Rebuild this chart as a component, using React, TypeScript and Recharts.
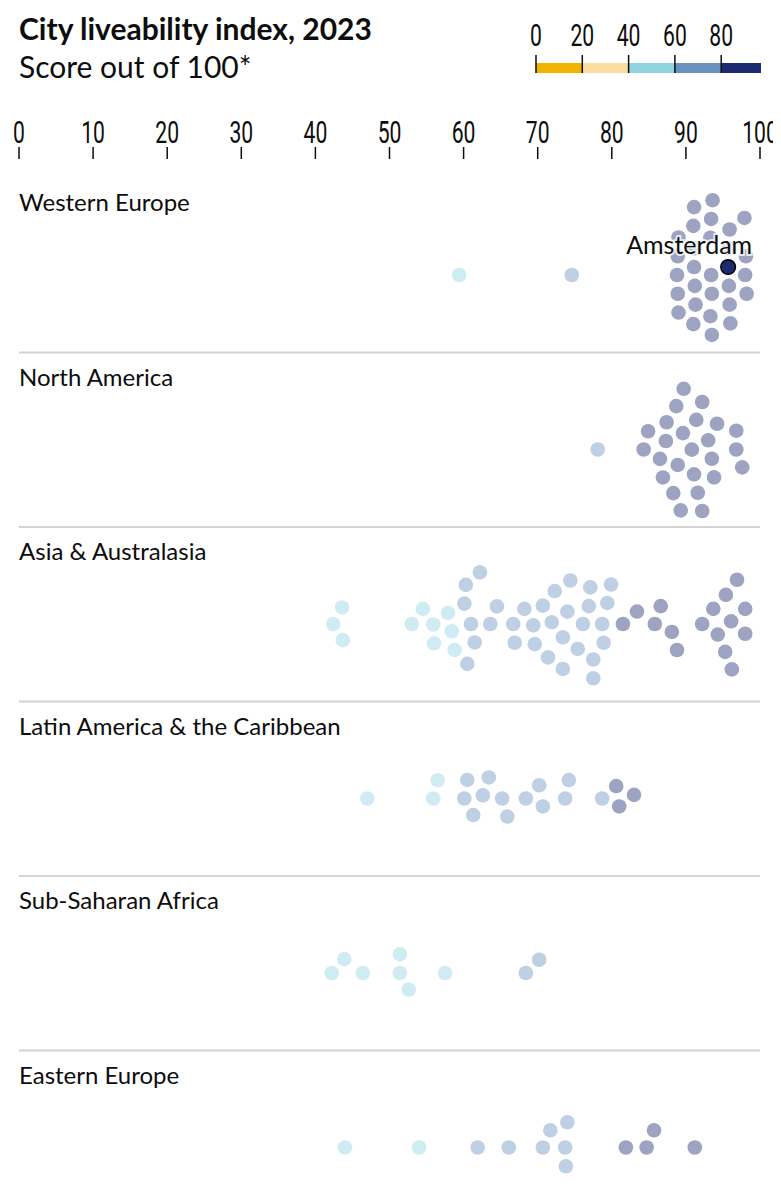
import React from 'react';
import { ScatterChart, Scatter, XAxis, YAxis, ReferenceLine } from 'recharts';

// Scores, one dot per city
const regions = [
  'Western Europe',
  'North America',
  'Asia & Australasia',
  'Latin America & the Caribbean',
  'Sub-Saharan Africa',
  'Eastern Europe',
];

const westernEurope = [
  59.4, 74.6,
  88.8, 88.9, 88.9, 89.0, 89.0,
  91.0, 91.1, 91.1, 91.2, 91.2, 91.3, 91.0,
  93.3, 93.4, 93.4, 93.5, 93.5, 93.6, 93.3,
  95.8, 95.8, 95.9, 95.9, 96.0,
  97.9, 98.0, 98.1, 98.2,
];
const northAmerica = [
  78.1, 84.3, 84.9, 86.5, 86.9, 87.3, 87.4, 88.3, 88.7, 88.9, 89.3, 89.6, 89.7, 90.8, 91.1,
  91.4, 91.6, 92.2, 92.2, 93.0, 93.5, 93.8, 94.2, 96.8, 96.8, 97.6,
];
const asiaAustralasia = [
  42.4, 43.6, 43.7, 53.0, 54.5, 55.9, 56.0, 57.9, 58.4, 58.8,
  60.1, 60.3, 60.5, 61.0, 61.5, 62.2, 63.6, 64.5, 66.7, 66.9, 68.2, 69.4, 69.6, 70.7, 71.4,
  71.9, 72.3, 73.4, 73.4, 74.0, 74.4, 75.4, 76.1, 76.9, 77.1, 77.5, 77.5, 78.7, 78.9, 79.4, 79.9,
  81.5, 83.4, 85.8, 86.6, 88.1, 88.8, 92.2, 93.7, 94.3, 95.3, 95.4, 96.1, 96.2, 96.9, 98.0, 98.0,
];
const latinAmerica = [
  47.0, 55.9, 56.5, 60.1, 60.5, 61.3, 62.6, 63.4, 65.2, 65.9, 68.4, 70.2, 70.7, 73.7, 74.2,
  78.7, 80.6, 81.0, 83.0,
];
const subSaharanAfrica = [42.2, 43.9, 46.4, 51.4, 51.4, 52.6, 57.5, 68.4, 70.2];
const easternEurope = [44.0, 54.0, 61.9, 66.1, 70.7, 71.7, 73.7, 73.8, 74.0, 81.9, 84.7, 85.7, 91.2];

const highlightCity = 'Amsterdam';
const highlightScore = 95.7;

const regionScores = [westernEurope, northAmerica, asiaAustralasia, latinAmerica, subSaharanAfrica, easternEurope];

const axisTicks = [0, 10, 20, 30, 40, 50, 60, 70, 80, 90, 100];
const legendBreaks = [0, 20, 40, 60, 80];
const legendColors = ['#f0b400', '#fcdd9f', '#90d4e1', '#6a92c0', '#1c2a6f'];

// layout
const W = 781;
const H = 1200;
const LEFT = 19;
const RIGHT = 760;
const TOP = 178;
const BAND = 174.5;
const MID = 97;
const PX = (RIGHT - LEFT) / 100;
const GAP = 18.8;
const R = 7.3;
const FONT = 'Lato, "Noto Sans", sans-serif';

const colorFor = (s: number) => legendColors[Math.min(4, Math.floor(s / 20))];

// simple greedy beeswarm: offset each dot as little as possible from the band centre
function swarm(scores: number[]) {
  const order = scores.map((_, i) => i).sort((a, b) => scores[a] - scores[b]);
  const placed: { x: number; y: number }[] = [];
  const ys = new Array(scores.length).fill(0);
  for (const i of order) {
    const x = scores[i] * PX;
    const cands = [0];
    for (const p of placed) {
      const dx = Math.abs(p.x - x);
      if (dx < GAP) {
        const dy = Math.sqrt(GAP * GAP - dx * dx);
        cands.push(p.y + dy, p.y - dy);
      }
    }
    cands.sort((a, b) => Math.abs(a) - Math.abs(b) || a - b);
    const y = cands.find((c) => placed.every((p) => (p.x - x) ** 2 + (p.y - c) ** 2 >= GAP * GAP - 1e-6)) ?? 0;
    placed.push({ x, y });
    ys[i] = y;
  }
  return ys;
}

const series = regionScores.map((scores, r) => {
  const all = r === 0 ? [...scores, highlightScore] : scores;
  const offs = swarm(all);
  return all.map((s, i) => ({
    x: s,
    y: r * BAND + MID + offs[i],
    city: r === 0 && i === all.length - 1 ? highlightCity : '',
  }));
});

const dots = series.flat().filter((d) => !d.city);
const highlight = series.flat().filter((d) => d.city);

const Dot = (p: any) => (
  <circle cx={p.cx} cy={p.cy} r={R} fill={colorFor(p.payload.x)} fillOpacity={0.43} />
);

const HighlightDot = (p: any) => (
  <g>
    <text
      x={p.cx + 24}
      y={p.cy - 13}
      textAnchor="end"
      fontFamily={FONT}
      fontSize={25}
      fill="#0d0d0d"
      stroke="#fff"
      strokeOpacity={0.75}
      strokeWidth={4}
      paintOrder="stroke"
    >
      {p.payload.city}
    </text>
    <circle cx={p.cx} cy={p.cy} r={R} fill="#1c2a6f" stroke="#000" strokeWidth={1.5} />
  </g>
);

const Narrow = ({ x, y, children }: any) => (
  <text
    transform={`translate(${x},${y}) scale(0.66,1)`}
    textAnchor="middle"
    fontFamily='Roboto, "Noto Sans", sans-serif'
    fontSize={32}
    fill="#0d0d0d"
  >
    {children}
  </text>
);

const AxisTick = (p: any) => (
  <g>
    <Narrow x={p.x} y={143}>{p.payload.value}</Narrow>
    <line x1={p.x} x2={p.x} y1={147} y2={159} stroke="#0d0d0d" strokeWidth={1.5} />
  </g>
);

const legendX0 = 536;
const legendX1 = 761;
const legendStep = 46.3;

export default function App() {
  return (
    <div style={{ position: 'relative', width: W, height: H, margin: -8, background: '#fff' }}>
      <ScatterChart width={W} height={H} margin={{ top: TOP - 60, right: W - RIGHT, bottom: 0, left: LEFT }}>
        <XAxis
          type="number"
          dataKey="x"
          domain={[0, 100]}
          ticks={axisTicks}
          orientation="top"
          height={60}
          axisLine={false}
          tickLine={false}
          tick={AxisTick}
          interval={0}
        />
        <YAxis type="number" dataKey="y" domain={[0, H - TOP]} reversed hide />
        {regions.slice(1).map((_, i) => (
          <ReferenceLine key={i} y={(i + 1) * BAND} stroke="#d4d4d4" strokeWidth={2} />
        ))}
        <Scatter data={dots} shape={Dot} isAnimationActive={false} />
        <Scatter data={highlight} shape={HighlightDot} isAnimationActive={false} />
      </ScatterChart>
      <svg width={W} height={H} style={{ position: 'absolute', left: 0, top: 0, pointerEvents: 'none' }}>
        <rect x={19} y={3} width={38} height={2.5} fill="#0d0d0d" />
        <text x={19} y={40} fontFamily={FONT} fontWeight={700} fontSize={30} fill="#0d0d0d">
          City liveability index, 2023
        </text>
        <text x={19} y={78} fontFamily={FONT} fontSize={30} fill="#0d0d0d">
          Score out of 100*
        </text>
        {legendColors.map((c, i) => {
          const x0 = legendX0 + i * legendStep;
          const x1 = i === legendColors.length - 1 ? legendX1 : x0 + legendStep;
          return <rect key={c} x={x0} y={63} width={x1 - x0} height={10} fill={c} />;
        })}
        {legendBreaks.map((b, i) => (
          <g key={b}>
            <line x1={legendX0 + i * legendStep} x2={legendX0 + i * legendStep} y1={55} y2={73} stroke="#0d0d0d" strokeWidth={1.5} />
            <Narrow x={legendX0 + i * legendStep} y={46}>{b}</Narrow>
          </g>
        ))}
        {regions.map((name, i) => (
          <text key={name} x={19} y={TOP + i * BAND + 33} fontFamily={FONT} fontSize={24} fill="#0d0d0d">
            {name}
          </text>
        ))}
      </svg>
    </div>
  );
}
